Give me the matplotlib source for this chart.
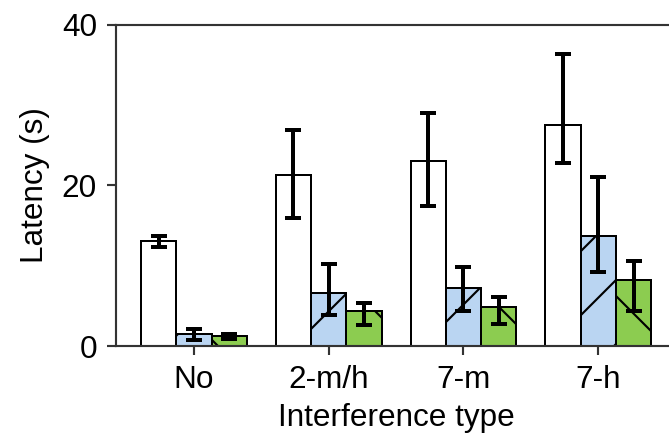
import numpy as np
import matplotlib
matplotlib.use("Agg")
import matplotlib.pyplot as plt

categories = ["No", "2-m/h", "7-m", "7-h"]

white_mean = [13.1, 21.3, 23.1, 27.6]
white_lo = [0.8, 5.3, 5.7, 4.8]
white_hi = [0.6, 5.6, 5.9, 8.8]

blue_mean = [1.5, 6.6, 7.2, 13.7]
blue_lo = [0.7, 2.7, 2.8, 4.5]
blue_hi = [0.6, 3.6, 2.6, 7.3]

green_mean = [1.2, 4.3, 4.8, 8.2]
green_lo = [0.3, 1.7, 2.0, 3.9]
green_hi = [0.3, 1.1, 1.3, 2.4]

yticks = [0, 20, 40]

DPI = 192
plt.rcParams['font.family'] = ['Liberation Sans', 'DejaVu Sans']
plt.rcParams['hatch.linewidth'] = 0.8
plt.rcParams['hatch.color'] = 'black'

fig = plt.figure(figsize=(669 / DPI, 433 / DPI), dpi=DPI)
ax = fig.add_axes([0.1738, 0.2009, 0.8366, 0.7414])

x = np.arange(len(categories))
w = 0.262
ekw = dict(ecolor='black', elinewidth=1.5, capsize=3.0, capthick=1.5)
series = [
    (white_mean, white_lo, white_hi, 'white', None, -w),
    (blue_mean, blue_lo, blue_hi, '#bad5f2', '/', 0.0),
    (green_mean, green_lo, green_hi, '#8ccc50', '\\', w),
]
for mean, lo, hi, col, hatch, off in series:
    ax.bar(x + off, mean, width=w, color=col, edgecolor='black', linewidth=0.75,
           hatch=hatch, yerr=[lo, hi], error_kw=ekw, zorder=2)

ax.set_xlim(-0.577, 3.577)
ax.set_ylim(0, 40)
ax.set_yticks(yticks)
ax.set_xticks(x)
ax.set_xticklabels(categories)
for sp in ax.spines.values():
    sp.set_linewidth(0.8)
    sp.set_color('#333333')
ax.tick_params(axis='both', length=3.4, width=0.8, color='#333333', labelsize=11.8, pad=3.8)
ax.set_ylabel("Latency (s)", fontsize=11.8, labelpad=4.5)
ax.set_xlabel("Interference type", fontsize=11.8, labelpad=2.8)

fig.savefig("out.png", dpi=DPI)
